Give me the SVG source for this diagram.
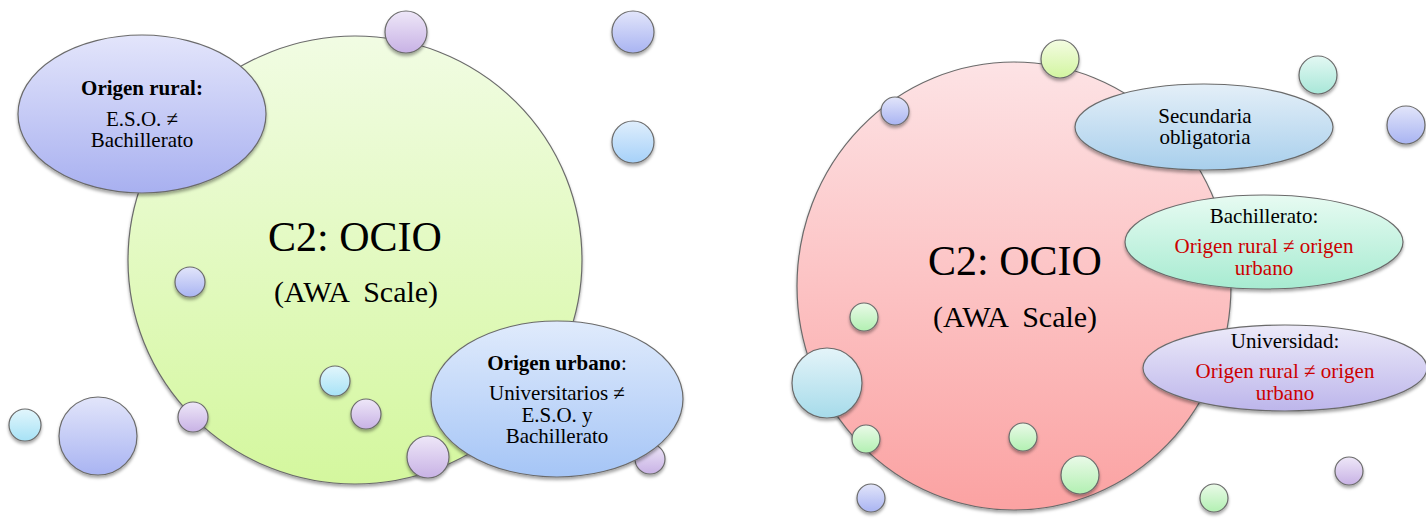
<svg xmlns="http://www.w3.org/2000/svg" width="1426" height="520" viewBox="0 0 1426 520">
  <defs>
    <!-- vertical fills, light at the top, deeper at the bottom -->
    <linearGradient id="gGreenBig" x1="0" y1="0" x2="0" y2="1"><stop offset="0" stop-color="#f1fce3"/><stop offset="1" stop-color="#d4f79e"/></linearGradient>
    <linearGradient id="gPinkBig" x1="0" y1="0" x2="0" y2="1"><stop offset="0" stop-color="#fde3e5"/><stop offset="1" stop-color="#fba2a2"/></linearGradient>
    <linearGradient id="gPeri" x1="0" y1="0" x2="0" y2="1"><stop offset="0" stop-color="#e3e5fb"/><stop offset="1" stop-color="#a8b0f0"/></linearGradient>
    <linearGradient id="gSky" x1="0" y1="0" x2="0" y2="1"><stop offset="0" stop-color="#e0ebfc"/><stop offset="1" stop-color="#a5c5f6"/></linearGradient>
    <linearGradient id="gSteel" x1="0" y1="0" x2="0" y2="1"><stop offset="0" stop-color="#e4eff8"/><stop offset="1" stop-color="#a8cfec"/></linearGradient>
    <linearGradient id="gMint" x1="0" y1="0" x2="0" y2="1"><stop offset="0" stop-color="#e7fbf2"/><stop offset="1" stop-color="#a7ebd1"/></linearGradient>
    <linearGradient id="gLilac" x1="0" y1="0" x2="0" y2="1"><stop offset="0" stop-color="#eceaf9"/><stop offset="1" stop-color="#bdb6eb"/></linearGradient>
    <linearGradient id="gPurple" x1="0" y1="0" x2="0" y2="1"><stop offset="0" stop-color="#eee7f8"/><stop offset="1" stop-color="#c8b2e5"/></linearGradient>
    <linearGradient id="gBlueLav" x1="0" y1="0" x2="0" y2="1"><stop offset="0" stop-color="#e2e5fa"/><stop offset="1" stop-color="#a9b4f2"/></linearGradient>
    <linearGradient id="gLightBlue" x1="0" y1="0" x2="0" y2="1"><stop offset="0" stop-color="#dfeefc"/><stop offset="1" stop-color="#a6d1f9"/></linearGradient>
    <linearGradient id="gCyan" x1="0" y1="0" x2="0" y2="1"><stop offset="0" stop-color="#e2f6fc"/><stop offset="1" stop-color="#a7e2f6"/></linearGradient>
    <linearGradient id="gLime" x1="0" y1="0" x2="0" y2="1"><stop offset="0" stop-color="#f4fce2"/><stop offset="1" stop-color="#d2f5a0"/></linearGradient>
    <linearGradient id="gLeaf" x1="0" y1="0" x2="0" y2="1"><stop offset="0" stop-color="#eafae8"/><stop offset="1" stop-color="#b2f0b2"/></linearGradient>
    <linearGradient id="gAqua" x1="0" y1="0" x2="0" y2="1"><stop offset="0" stop-color="#e3f8f3"/><stop offset="1" stop-color="#a8e7d8"/></linearGradient>
    <linearGradient id="gIce" x1="0" y1="0" x2="0" y2="1"><stop offset="0" stop-color="#e4f4f9"/><stop offset="1" stop-color="#a6dbea"/></linearGradient>
    <filter id="shadow" x="-20%" y="-20%" width="140%" height="150%">
      <feDropShadow dx="0" dy="2.5" stdDeviation="1.8" flood-color="#000" flood-opacity="0.35"/>
    </filter>
  </defs>
  <style>
    .shape { stroke: #6b6b6b; stroke-width: 1.2; filter: url(#shadow); }
    text { font-family: 'Liberation Serif', 'Times New Roman', Times, 'DejaVu Serif', serif; text-anchor: middle; fill: #000; }
    .title { font-size: 42px; }
    .sub { font-size: 30px; white-space: pre; }
    .lbl { font-size: 21px; }
    .b { font-weight: bold; }
    .red { fill: #cc0000; }
  </style>

  <rect width="1426" height="520" fill="#ffffff"/>

  <!-- left cluster: rural / urban -->
  <g id="ocio-left" font-family="Liberation Serif, serif">
    <ellipse class="shape" cx="355" cy="260" rx="227" ry="224" fill="url(#gGreenBig)"/>
    <text class="title" x="355" y="251" font-family="Liberation Serif, serif">C2: OCIO</text>
    <text class="sub" x="356" y="302" font-family="Liberation Serif, serif" xml:space="preserve">(AWA  Scale)</text>
  </g>

  <g id="bubbles-left">
    <circle class="shape" cx="406" cy="32" r="21" fill="url(#gPurple)"/>
    <circle class="shape" cx="633" cy="32" r="21" fill="url(#gBlueLav)"/>
    <circle class="shape" cx="633" cy="142" r="21" fill="url(#gLightBlue)"/>
    <circle class="shape" cx="190" cy="282" r="15" fill="url(#gBlueLav)"/>
    <circle class="shape" cx="335" cy="381" r="15" fill="url(#gCyan)"/>
    <circle class="shape" cx="193" cy="417" r="15" fill="url(#gPurple)"/>
    <circle class="shape" cx="366" cy="414" r="15" fill="url(#gPurple)"/>
    <circle class="shape" cx="25" cy="425" r="16" fill="url(#gCyan)"/>
    <circle class="shape" cx="98" cy="436" r="39" fill="url(#gBlueLav)"/>
    <circle class="shape" cx="650" cy="459" r="15" fill="url(#gPurple)"/>
  </g>

  <g id="origen-rural" font-family="Liberation Serif, serif">
    <ellipse class="shape" cx="142" cy="114" rx="124" ry="79" fill="url(#gPeri)"/>
    <text class="lbl b" x="142" y="95">Origen rural:</text>
    <text class="lbl" x="142" y="126">E.S.O. ≠</text>
    <text class="lbl" x="142" y="147">Bachillerato</text>
  </g>

  <g id="origen-urbano" font-family="Liberation Serif, serif">
    <ellipse class="shape" cx="557" cy="399" rx="126" ry="78" fill="url(#gSky)"/>
    <text class="lbl" x="557" y="370"><tspan class="b">Origen urbano</tspan>:</text>
    <text class="lbl" x="557" y="400">Universitarios ≠</text>
    <text class="lbl" x="557" y="422">E.S.O. y</text>
    <text class="lbl" x="557" y="443">Bachillerato</text>
  </g>

  <g id="bubble-left-front">
    <circle class="shape" cx="428" cy="457" r="21" fill="url(#gPurple)"/>
  </g>

  <!-- right cluster: by level of studies -->
  <g id="ocio-right" font-family="Liberation Serif, serif">
    <ellipse class="shape" cx="1014" cy="286" rx="217" ry="224" fill="url(#gPinkBig)"/>
    <text class="title" x="1015" y="275">C2: OCIO</text>
    <text class="sub" x="1015" y="327" xml:space="preserve">(AWA  Scale)</text>
  </g>

  <g id="bubbles-right">
    <circle class="shape" cx="1060" cy="59" r="19" fill="url(#gLime)"/>
    <circle class="shape" cx="895" cy="111" r="14" fill="url(#gBlueLav)"/>
    <circle class="shape" cx="1318" cy="75" r="19" fill="url(#gAqua)"/>
    <circle class="shape" cx="1406" cy="125" r="19" fill="url(#gBlueLav)"/>
    <circle class="shape" cx="864" cy="317" r="14" fill="url(#gLeaf)"/>
    <circle class="shape" cx="827" cy="383" r="35" fill="url(#gIce)"/>
    <circle class="shape" cx="866" cy="439" r="14" fill="url(#gLeaf)"/>
    <circle class="shape" cx="1023" cy="437" r="14" fill="url(#gLeaf)"/>
    <circle class="shape" cx="1080" cy="475" r="19" fill="url(#gLeaf)"/>
    <circle class="shape" cx="871" cy="498" r="14" fill="url(#gBlueLav)"/>
    <circle class="shape" cx="1214" cy="498" r="14" fill="url(#gLeaf)"/>
    <circle class="shape" cx="1349" cy="471" r="14" fill="url(#gPurple)"/>
  </g>

  <g id="secundaria" font-family="Liberation Serif, serif">
    <ellipse class="shape" cx="1204" cy="127" rx="129" ry="43" fill="url(#gSteel)"/>
    <text class="lbl" x="1205" y="123">Secundaria</text>
    <text class="lbl" x="1205" y="144">obligatoria</text>
  </g>

  <g id="bachillerato" font-family="Liberation Serif, serif">
    <ellipse class="shape" cx="1264" cy="242" rx="139" ry="47" fill="url(#gMint)"/>
    <text class="lbl" x="1264" y="223">Bachillerato:</text>
    <text class="lbl red" x="1264" y="253">Origen rural ≠ origen</text>
    <text class="lbl red" x="1264" y="275">urbano</text>
  </g>

  <g id="universidad" font-family="Liberation Serif, serif">
    <ellipse class="shape" cx="1285" cy="368" rx="142" ry="43" fill="url(#gLilac)"/>
    <text class="lbl" x="1285" y="348">Universidad:</text>
    <text class="lbl red" x="1285" y="378">Origen rural ≠ origen</text>
    <text class="lbl red" x="1285" y="400">urbano</text>
  </g>
</svg>
